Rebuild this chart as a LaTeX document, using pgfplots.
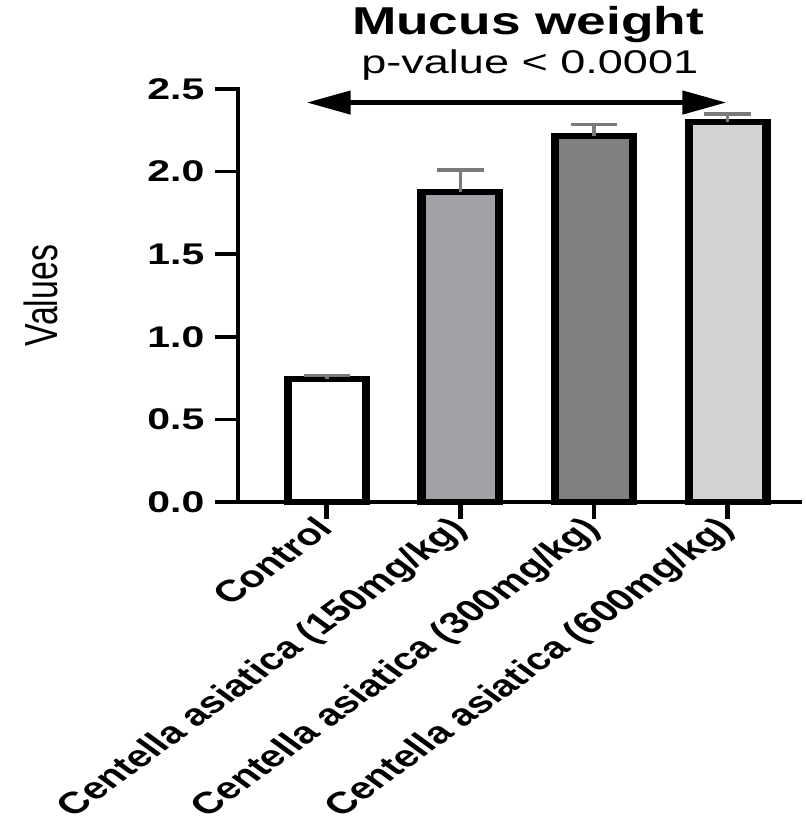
\documentclass[border=0pt]{standalone}
\usepackage{graphicx}
\usepackage{fontspec}
\setmainfont{Liberation Sans}
\usepackage{pgfplots}
\pgfplotsset{compat=1.18}
\usetikzlibrary{arrows.meta}
\definecolor{barA}{HTML}{A2A1A6}
\definecolor{barB}{HTML}{808080}
\definecolor{barC}{HTML}{D3D3D3}
\definecolor{errc}{HTML}{7A7A7A}
\begin{document}
\scalebox{1.37}[1]{%
\begin{tikzpicture}
\useasboundingbox (-173.7bp,-331bp) rectangle (413.9bp,502bp);
\begin{axis}[
  at={(0,0)}, anchor=south west,
  scale only axis,
  width=410bp, height=413bp,
  xmin=-0.666, xmax=3.54,
  ymin=0, ymax=2.5,
  axis x line*=bottom, axis y line*=left,
  axis line style={line width=3.6bp, line cap=rect},
  tick style={line width=3.6bp, black},
  major tick length=17bp,
  tick align=outside,
  xtick={0,1,2,3},
  xticklabels={Control, Centella asiatica (150mg/kg), Centella asiatica (300mg/kg), Centella asiatica (600mg/kg)},
  xticklabel style={rotate=45, anchor=north east, font=\fontsize{30.5}{30.5}\selectfont\bfseries, inner sep=0pt, xshift=-4bp, yshift=10bp},
  ytick={0,0.5,1,1.5,2,2.5},
  yticklabel style={font=\fontsize{30}{30}\selectfont\bfseries, xshift=-4bp, /pgf/number format/fixed, /pgf/number format/fixed zerofill, /pgf/number format/precision=1, /pgf/number format/assume math mode=true},
  ylabel={Values},
  every axis y label/.style={at={(axis description cs:0,0.5)}, xshift=-144bp, rotate=90, anchor=center, font=\fontsize{34}{34}\selectfont},
  ybar, bar width=0.583, bar shift=0pt,
  clip=false,
  error bars/y dir=plus, error bars/y explicit,
  error bars/error bar style={line width=2.5bp, errc},
  error bars/error mark options={rotate=90, mark size=17bp, line width=3.2bp, errc},
]
\addplot[fill=white, draw=black, line width=6bp] coordinates {(0,0.746) +- (0,0.02)};
\addplot[fill=barA, draw=black, line width=6bp] coordinates {(1,1.876) +- (0,0.134)};
\addplot[fill=barB, draw=black, line width=6bp] coordinates {(2,2.213) +- (0,0.073)};
\addplot[fill=barC, draw=black, line width=6bp] coordinates {(3,2.300) +- (0,0.049)};
\addplot[sharp plot, line width=4.5bp, black, {Triangle[length=32bp, width=23bp]}-{Triangle[length=32bp, width=23bp]}] coordinates {(-0.15,2.418) (2.99,2.418)};
\node[anchor=base, font=\fontsize{39}{39}\selectfont\bfseries] at ([shift={(211.7bp,467bp)}]axis description cs:0,0) {Mucus weight};
\node[anchor=base, font=\fontsize{33}{33}\selectfont] at ([shift={(213bp,428bp)}]axis description cs:0,0) {p-value < 0.0001};
\end{axis}
\end{tikzpicture}}
\end{document}
